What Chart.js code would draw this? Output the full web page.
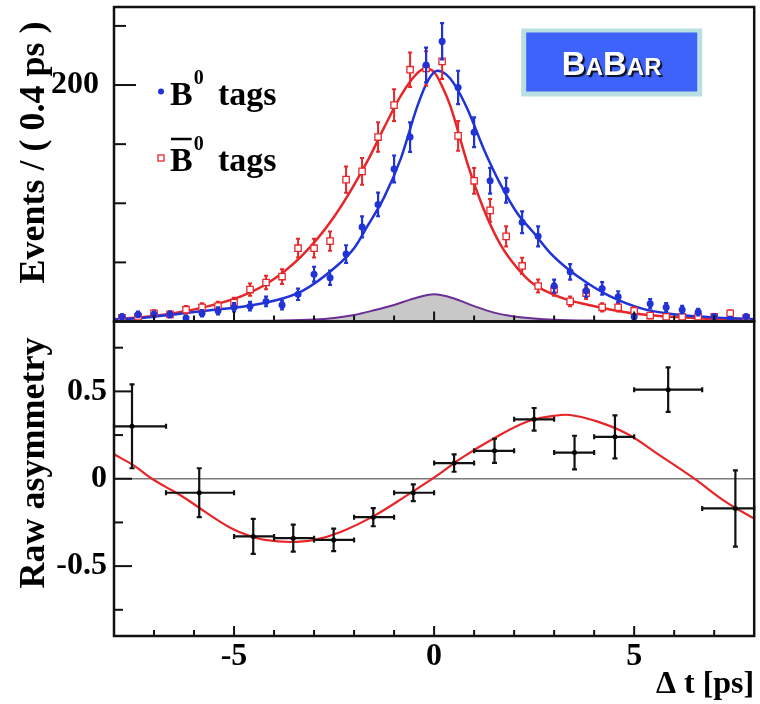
<!DOCTYPE html>
<html>
<head>
<meta charset="utf-8">
<script src="https://cdn.jsdelivr.net/npm/chart.js@4.4.0/dist/chart.umd.min.js"></script>
<style>body{margin:0;background:#fff}</style>
</head>
<body>
<canvas id="dt" width="760" height="704"></canvas>
<script>
// bin centres of the 0.4 ps histogram
const binT = [-7.8,-7.4,-7.0,-6.6,-6.2,-5.8,-5.4,-5.0,-4.6,-4.2,-3.8,-3.4,-3.0,-2.6,-2.2,-1.8,-1.4,-1.0,-0.6,-0.2,
              0.2,0.6,1.0,1.4,1.8,2.2,2.6,3.0,3.4,3.8,4.2,4.6,5.0,5.4,5.8,6.2,6.6,7.0,7.4,7.8];
// B0 tags
const b0N   = [4,6,6,6,3,7,9,12,13,17,14,23,40,37,57,80,99,129,156,217,
               237,198,160,119,111,84,72,30,42,26,28,21,4,15,12,10,8,4,2,4];
const b0Err = [2,2.4,2.4,2.4,1.7,2.6,3,3.5,3.6,4.1,3.7,4.8,6.3,6.1,7.5,8.9,10,11.4,12.5,14.7,
               15.4,14.1,12.6,10.9,10.5,9.2,8.5,5.5,6.5,5.1,5.3,4.6,2,3.9,3.5,3.2,2.8,2,1.4,2];
// B0bar tags
const b0barN   = [3,4,7,6,10,12,13,16,27,33,38,62,62,68,120,127,156,183,213,214,
                  220,157,119,94,72,47,30,27,17,24,12,12,9,5,4,4,4,4,7,3];
const b0barErr = [1.7,2,2.6,2.4,3.2,3.5,3.6,4,5.2,5.7,6.2,7.9,7.9,8.2,11,11.3,12.5,13.5,14.6,14.6,
                  14.8,12.5,10.9,9.7,8.5,6.9,5.5,5.2,4.1,4.9,3.5,3.5,3,2.2,2,2,2,2,2.6,1.7];

// fit projections
const fitB0T = [-8,-7.3,-6.5,-5.6,-4.8,-4.0,-3.3,-2.5,-2.0,-1.66,-1.25,-0.83,-0.42,-0.15,0.08,0.3,0.5,0.83,1.24,1.66,2.07,2.49,2.9,3.32,3.81,4.39,5.22,6.05,6.88,8];
const fitB0N = [1.7,3,6,9.5,12.5,17.5,25.7,45,62,81,105,138,182,204,212,209,201,180,146,116,92,75,58,45,33,21.5,10.7,5.9,3.7,2];
const fitB0barT = [-8,-7.2,-6.47,-5.64,-4.81,-4.15,-3.32,-2.49,-1.66,-1.25,-0.83,-0.42,-0.22,0.0,0.2,0.41,0.83,1.24,1.66,2.07,2.49,2.9,3.32,3.81,4.39,5.22,6.05,6.88,8];
const fitB0barN = [2,4,7.3,13,21.5,32.5,55,89,136,164,191,210,214,211,199,182,134,95,65,45.5,31.5,24,18.5,14.4,10.2,5.9,3.7,2.2,1.7];
const bkgT = [-8,-5,-4,-3,-2.5,-2,-1.5,-1,-0.5,0,0.5,1,1.5,2,2.5,3,4,5,8];
const bkgN = [0.3,0.4,0.7,1.6,3,5.5,9.5,14,19.5,23,19.5,13,7.5,4.3,2.5,1.5,0.7,0.4,0.2];

// raw asymmetry, variable bins
const asymT   = [-7.55,-5.87,-4.52,-3.52,-2.51,-1.52,-0.52,0.5,1.51,2.5,3.51,4.52,5.85,7.53];
const asymA   = [0.30,-0.08,-0.33,-0.34,-0.35,-0.22,-0.08,0.09,0.16,0.34,0.15,0.24,0.51,-0.17];
const asymErr = [0.24,0.14,0.10,0.077,0.064,0.052,0.048,0.05,0.069,0.065,0.096,0.123,0.127,0.218];
const asymLo  = [-8,-6.7,-5,-4,-3,-2,-1,0,1,2,3,4,5,6.7];
const asymHi  = [-6.7,-5,-4,-3,-2,-1,0,1,2,3,4,5,6.7,8];
const asymFitT = [-8,-7.5,-7.05,-6.72,-6.3,-5.89,-5.47,-5.06,-4.64,-4.23,-3.6,-3.0,-2.32,-1.49,-0.66,0.08,0.66,1.49,2.32,3.0,3.4,3.98,4.81,5.64,6.47,7.3,8];
const asymFitA = [0.14,0.075,0,-0.045,-0.1,-0.163,-0.228,-0.285,-0.325,-0.35,-0.362,-0.35,-0.303,-0.211,-0.092,0.019,0.115,0.23,0.326,0.36,0.365,0.335,0.259,0.134,0.006,-0.134,-0.228];

const SERIF = "'Liberation Serif','DejaVu Serif',serif";
const SANS = "'Liberation Sans','DejaVu Sans',sans-serif";
const BLUE = '#1f33d6', RED = '#e8262a';

const xy = (xs, ys) => xs.map((x, i) => ({x: x, y: ys[i]}));

// error bars drawn under each marker set
const errorBars = {
  id: 'errorBars',
  beforeDatasetDraw(chart, args) {
    const ds = chart.data.datasets[args.index];
    if (!ds.yErr) return;
    const ctx = chart.ctx, xs = chart.scales.x, ys = chart.scales[ds.yAxisID];
    const cap = ds.capSize;
    ctx.save();
    ctx.strokeStyle = ds.barColor;
    ctx.lineWidth = ds.barWidth;
    ds.data.forEach((p, i) => {
      const px = xs.getPixelForValue(p.x), py = ys.getPixelForValue(p.y);
      const y0 = ys.getPixelForValue(p.y - ds.yErr[i]), y1 = ys.getPixelForValue(p.y + ds.yErr[i]);
      ctx.beginPath();
      ctx.moveTo(px, y0); ctx.lineTo(px, y1);
      ctx.moveTo(px - cap, y0); ctx.lineTo(px + cap, y0);
      ctx.moveTo(px - cap, y1); ctx.lineTo(px + cap, y1);
      if (ds.xLo) {
        const x0 = xs.getPixelForValue(ds.xLo[i]), x1 = xs.getPixelForValue(ds.xHi[i]);
        ctx.moveTo(x0, py); ctx.lineTo(x1, py);
        ctx.moveTo(x0, py - cap); ctx.lineTo(x0, py + cap);
        ctx.moveTo(x1, py - cap); ctx.lineTo(x1, py + cap);
      }
      ctx.stroke();
    });
    ctx.restore();
  }
};

// frames, inward ticks, axis titles, legend and experiment logo
const decor = {
  id: 'decor',
  afterDraw(chart) {
    const ctx = chart.ctx, xs = chart.scales.x, yN = chart.scales.yN, yA = chart.scales.yA;
    const L = xs.left, R = xs.right;
    ctx.save();
    ctx.strokeStyle = '#111';
    ctx.lineWidth = 2.5;
    const seg = (a, b, c, d) => { ctx.beginPath(); ctx.moveTo(a, b); ctx.lineTo(c, d); ctx.stroke(); };
    [yN, yA].forEach(s => ctx.strokeRect(L, s.top, R - L, s.bottom - s.top));
    ctx.lineWidth = 2;
    for (let v = Math.ceil(xs.min); v < xs.max; v++) {
      if (v <= xs.min) continue;
      const px = xs.getPixelForValue(v), len = v % 5 === 0 ? 10 : 6;
      seg(px, yN.bottom, px, yN.bottom - len);
      seg(px, yA.bottom, px, yA.bottom - len);
    }
    for (let v = 50; v < yN.max; v += 50) {
      const py = yN.getPixelForValue(v);
      seg(L, py, L + (v % 200 === 0 ? 22 : 12), py);
    }
    for (let v = -0.75; v < 0.8; v += 0.25) {
      const py = yA.getPixelForValue(v);
      seg(L, py, L + (Math.abs(v * 2 - Math.round(v * 2)) < 1e-6 ? 18 : 9), py);
    }

    // rotated y titles
    ctx.fillStyle = '#000';
    ctx.font = 'bold 36px ' + SERIF;
    ctx.textAlign = 'right';
    ctx.textBaseline = 'alphabetic';
    [[yN, 'Events / ( 0.4 ps )', 14.5], [yA, 'Raw asymmetry', 16]].forEach(([s, t, off]) => {
      ctx.save();
      ctx.translate(44, s.top + off);
      ctx.rotate(-Math.PI / 2);
      ctx.fillText(t, 0, 0);
      ctx.restore();
    });

    // legend
    ctx.textAlign = 'left';
    const rows = [{y: yN.top + 97.5, bar: false}, {y: yN.top + 164, bar: true}];
    rows.forEach((r, k) => {
      const mx = L + 47, my = r.y - 13;
      if (k === 0) {
        ctx.fillStyle = BLUE;
        ctx.beginPath(); ctx.arc(mx, my, 3, 0, Math.PI * 2); ctx.fill();
      } else {
        ctx.strokeStyle = RED; ctx.lineWidth = 1.3;
        ctx.strokeRect(mx - 3, my - 3, 6, 6);
      }
      ctx.fillStyle = '#000';
      ctx.font = 'bold 34px ' + SERIF;
      const bx = L + 56;
      ctx.fillText('B', bx, r.y);
      const bw = ctx.measureText('B').width;
      if (r.bar) {
        ctx.strokeStyle = '#000'; ctx.lineWidth = 2.5;
        seg(bx + 1, r.y - 32, bx + bw - 1, r.y - 32);
      }
      ctx.font = 'bold 20px ' + SERIF;
      ctx.fillText('0', bx + bw + 1, r.y - 21);
      ctx.font = 'bold 34px ' + SERIF;
      ctx.fillText('tags', L + 104, r.y);
    });

    // BABAR badge
    const bxR = R - 52, byT = yN.top + 21.5;
    ctx.fillStyle = '#b9dfe3';
    ctx.fillRect(bxR - 181, byT, 181, 68);
    ctx.fillStyle = '#3d63fb';
    ctx.fillRect(bxR - 176, byT + 4, 171, 59);
    const parts = [['B', 33], ['A', 24], ['B', 33], ['AR', 24]];
    let tw = 0;
    parts.forEach(p => { ctx.font = 'bold ' + p[1] + 'px ' + SANS; tw += ctx.measureText(p[0]).width; });
    let tx = bxR - 90.5 - tw / 2;
    ctx.shadowColor = 'rgba(0,0,0,0.85)';
    ctx.shadowOffsetX = 2; ctx.shadowOffsetY = 2; ctx.shadowBlur = 1;
    ctx.fillStyle = '#fff';
    parts.forEach(p => {
      ctx.font = 'bold ' + p[1] + 'px ' + SANS;
      ctx.fillText(p[0], tx, byT + 46);
      tx += ctx.measureText(p[0]).width;
    });
    ctx.restore();
  }
};

Chart.defaults.font.family = SERIF;
Chart.defaults.font.weight = 'bold';
Chart.defaults.color = '#000';

// fixed axis sizes, no extra room for overhanging labels
const fixW = s => { s.width = 114; s.paddingTop = 0; s.paddingBottom = 0; };
const fixH = s => { s.height = 68; s.paddingLeft = 0; s.paddingRight = 0; };

new Chart(document.getElementById('dt'), {
  type: 'line',
  data: {
    datasets: [
      { label: 'B0 tags', data: xy(binT, b0N), yAxisID: 'yN', showLine: false, order: 1,
        pointStyle: 'circle', pointRadius: 3.5, pointBackgroundColor: BLUE, pointBorderColor: BLUE, pointBorderWidth: 0,
        yErr: b0Err, barColor: BLUE, barWidth: 2.2, capSize: 2 },
      { label: 'B0bar tags', data: xy(binT, b0barN), yAxisID: 'yN', showLine: false, order: 2,
        pointStyle: 'rect', pointRadius: 4.5, pointBackgroundColor: '#fff', pointBorderColor: RED, pointBorderWidth: 1.3,
        yErr: b0barErr, barColor: RED, barWidth: 2, capSize: 2 },
      { label: 'B0 fit', data: xy(fitB0T, fitB0N), yAxisID: 'yN', order: 3,
        borderColor: BLUE, borderWidth: 2.5, pointRadius: 0, cubicInterpolationMode: 'monotone' },
      { label: 'B0bar fit', data: xy(fitB0barT, fitB0barN), yAxisID: 'yN', order: 4,
        borderColor: RED, borderWidth: 2.5, pointRadius: 0, cubicInterpolationMode: 'monotone' },
      { label: 'background', data: xy(bkgT, bkgN), yAxisID: 'yN', order: 5, fill: 'origin',
        backgroundColor: '#c8c8c8', borderColor: '#6b2e96', borderWidth: 2, pointRadius: 0, cubicInterpolationMode: 'monotone' },
      { label: 'asymmetry', data: xy(asymT, asymA), yAxisID: 'yA', showLine: false, order: 1,
        pointRadius: 2.5, pointBackgroundColor: '#000', pointBorderWidth: 0,
        yErr: asymErr, xLo: asymLo, xHi: asymHi, barColor: '#111', barWidth: 2.2, capSize: 2.5 },
      { label: 'asymmetry fit', data: xy(asymFitT, asymFitA), yAxisID: 'yA', order: 2,
        borderColor: RED, borderWidth: 2.2, pointRadius: 0, tension: 0.4 }
    ]
  },
  options: {
    responsive: false,
    animation: false,
    layout: { padding: { top: 7, right: 2, left: 0, bottom: 0 } },
    plugins: { legend: { display: false }, tooltip: { enabled: false } },
    scales: {
      x: {
        type: 'linear', min: -8, max: 8,
        grid: { display: false }, border: { display: false },
        ticks: { stepSize: 5, includeBounds: false, padding: -6, font: { size: 32 },
                 callback: v => (v % 5 === 0 ? v : '') },
        title: { display: true, text: 'Δ t [ps]', align: 'end', padding: 0, font: { size: 32 } },
        afterFit: fixH
      },
      yA: {
        type: 'linear', position: 'left', stack: 'panels', stackWeight: 1,
        min: -0.9, max: 0.9,
        grid: { drawTicks: false, lineWidth: 1.5, color: c => (c.tick && c.tick.value === 0 ? '#7a7a7a' : 'rgba(0,0,0,0)') },
        border: { display: false },
        ticks: { stepSize: 0.5, includeBounds: false, padding: 7, font: { size: 32 } },
        afterFit: fixW
      },
      yN: {
        type: 'linear', position: 'left', stack: 'panels', stackWeight: 1,
        min: 0, max: 266,
        grid: { display: false }, border: { display: false },
        ticks: { stepSize: 50, includeBounds: false, padding: 7, font: { size: 32 },
                 callback: v => (v === 200 ? '200' : '') },
        afterFit: fixW
      }
    }
  },
  plugins: [errorBars, decor]
});
</script>
</body>
</html>
